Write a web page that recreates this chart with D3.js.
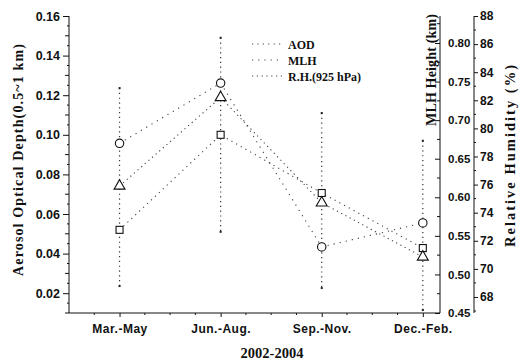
<!DOCTYPE html>
<html>
<head>
<meta charset="utf-8">
<script src="https://cdn.jsdelivr.net/npm/d3@7"></script>
<style>
  html, body { margin: 0; padding: 0; background: #fff; }
  svg { display: block; }
  .tick text { font-family: "Liberation Sans", Arial, sans-serif; font-weight: bold; fill: #111; }
  .domain, .tick line { stroke: #111; }
</style>
</head>
<body>
<svg id="chart" width="519" height="361"></svg>
<script>
// ---- data ----
const seasons = ["Mar.-May", "Jun.-Aug.", "Sep.-Nov.", "Dec.-Feb."];
const aod = [0.052, 0.100, 0.0706, 0.0428];          // left axis, squares
const mlh = [0.670, 0.748, 0.5356, 0.5667];          // MLH axis, circles
const rh  = [75.9, 82.2, 74.7, 70.85];               // RH axis, triangles
const errHigh = [0.1236, 0.149, 0.111, 0.097];       // vertical dotted ranges (AOD units)
const errLow  = [0.0236, 0.051, 0.0226, 0.0115];
const aodTicks = [0.02, 0.04, 0.06, 0.08, 0.10, 0.12, 0.14, 0.16];
const mlhTicks = [0.45, 0.50, 0.55, 0.60, 0.65, 0.70, 0.75, 0.80];
const rhTicks  = [68, 70, 72, 74, 76, 78, 80, 82, 84, 86, 88];
const legendLabels = ["AOD", "MLH", "R.H.(925 hPa)"];

// ---- layout ----
const L = 69, R = 440, T = 16, B = 313;
const svg = d3.select("#chart");

const x = d3.scaleLinear().domain([-0.5, 3.17]).range([L, R]);
const yA = d3.scaleLinear().domain([0.01, 0.16]).range([B, T]);
const yM = d3.scaleLinear().domain([0.45, 0.835]).range([B, T]);
const yR = d3.scaleLinear().domain([66.86, 88]).range([B, T]);

function minor(g, positions, x1, x2, horizontal) {
  g.selectAll(null).data(positions).enter().append("line")
    .attr("stroke", "#111").attr("stroke-width", 1)
    .attr("x1", d => horizontal ? d : x1).attr("x2", d => horizontal ? d : x2)
    .attr("y1", d => horizontal ? x1 : d).attr("y2", d => horizontal ? x2 : d);
}

// left axis
const gL = svg.append("g").attr("transform", `translate(${L},0)`)
  .call(d3.axisLeft(yA).tickValues(aodTicks).tickFormat(d3.format(".2f"))
    .tickSizeOuter(0).tickSize(6).tickPadding(3));
gL.select(".domain").attr("d", `M0,${T}V${B}`);
gL.selectAll(".tick text").attr("font-size", 12.5);
minor(svg.append("g"), d3.range(0.015, 0.16, 0.01).map(v => yA(v)), L - 2, L, false);
minor(svg.append("g"), d3.range(0.01, 0.161, 0.01).filter(v => Math.round(v*100) % 2 === 1).map(v => yA(v)), L - 4, L, false);

// bottom axis
const gB = svg.append("g").attr("transform", `translate(0,${B})`)
  .call(d3.axisBottom(x).tickValues([0, 1, 2, 3]).tickFormat(i => seasons[i])
    .tickSizeOuter(0).tickSize(4).tickPadding(7.5));
gB.select(".domain").attr("d", `M${L},0H${R}`);
gB.selectAll(".tick text").attr("font-size", 12).attr("letter-spacing", "0.5px");
minor(svg.append("g"), d3.range(-0.25, 3.17, 0.25).filter(v => Math.abs(v - Math.round(v)) > 0.01).map(v => x(v)), B, B + 2, true);

// MLH axis
const gM = svg.append("g").attr("transform", `translate(${R},0)`)
  .call(d3.axisRight(yM).tickValues(mlhTicks).tickFormat(d3.format(".2f"))
    .tickSizeOuter(0).tickSizeInner(-5).tickPadding(8));
gM.select(".domain").attr("d", `M0,${T}V${B}`);
gM.selectAll(".tick text").attr("font-size", 11.5);
minor(svg.append("g"), d3.range(0.475, 0.835, 0.05).map(v => yM(v)), R - 3, R, false);

// RH axis
const RX = 474;
const gR = svg.append("g").attr("transform", `translate(${RX},0)`)
  .call(d3.axisRight(yR).tickValues(rhTicks).tickFormat(d3.format("d"))
    .tickSizeOuter(0).tickSize(4).tickPadding(2));
gR.select(".domain").attr("d", `M0,${T}V${B}`);
gR.selectAll(".tick text").attr("font-size", 12);
minor(svg.append("g"), d3.range(67, 88, 2).map(v => yR(v)), RX, RX + 2, false);

// titles
const serif = '"Liberation Serif", "Times New Roman", serif';
svg.append("text").attr("transform", "translate(23,160) rotate(-90)")
  .attr("text-anchor", "middle").attr("font-family", serif).attr("font-weight", "bold")
  .attr("font-size", 14).attr("textLength", 232).attr("lengthAdjust", "spacing")
  .attr("fill", "#111").text("Aerosol Optical Depth(0.5~1 km)");
svg.append("text").attr("transform", "translate(436,70) rotate(-90)")
  .attr("text-anchor", "middle").attr("font-family", serif).attr("font-weight", "bold")
  .attr("font-size", 14).attr("textLength", 112).attr("lengthAdjust", "spacing")
  .attr("fill", "#111").text("MLH Height (km)");
svg.append("text").attr("transform", "translate(515,156) rotate(-90)")
  .attr("text-anchor", "middle").attr("font-family", serif).attr("font-weight", "bold")
  .attr("font-size", 14.5).attr("textLength", 182).attr("lengthAdjust", "spacing")
  .attr("fill", "#111").text("Relative Humidity (%)");
svg.append("text").attr("x", 272).attr("y", 358)
  .attr("text-anchor", "middle").attr("font-family", serif).attr("font-weight", "bold")
  .attr("font-size", 14.5).attr("fill", "#111").text("2002-2004");

// error ranges
const gE = svg.append("g");
seasons.forEach((s, i) => {
  gE.append("line").attr("x1", x(i)).attr("x2", x(i))
    .attr("y1", yA(errHigh[i])).attr("y2", yA(errLow[i]))
    .attr("stroke", "#333").attr("stroke-width", 1.2).attr("stroke-dasharray", "1.2,3.6");
  gE.append("rect").attr("x", x(i) - 1).attr("y", yA(errHigh[i]) - 1).attr("width", 2).attr("height", 2).attr("fill", "#222");
  gE.append("rect").attr("x", x(i) - 1).attr("y", yA(errLow[i]) - 1).attr("width", 2).attr("height", 2).attr("fill", "#222");
});

// series lines
const idx = d3.range(seasons.length);
const series = [
  { vals: aod, y: yA, dash: "1.2,4.2" },
  { vals: mlh, y: yM, dash: "1.2,5" },
  { vals: rh,  y: yR, dash: "1.2,3.6" }
];
series.forEach(s => {
  svg.append("path")
    .attr("d", d3.line().x(i => x(i)).y(i => s.y(s.vals[i]))(idx))
    .attr("fill", "none").attr("stroke", "#444").attr("stroke-width", 1.1)
    .attr("stroke-dasharray", s.dash);
});

// markers
svg.append("g").selectAll("rect").data(idx).enter().append("rect")
  .attr("x", i => x(i) - 3.5).attr("y", i => yA(aod[i]) - 3.5)
  .attr("width", 7).attr("height", 7)
  .attr("fill", "#fff").attr("stroke", "#111").attr("stroke-width", 1.1);
svg.append("g").selectAll("circle").data(idx).enter().append("circle")
  .attr("cx", i => x(i)).attr("cy", i => yM(mlh[i])).attr("r", 4.2)
  .attr("fill", "#fff").attr("stroke", "#111").attr("stroke-width", 1.1);
const tri = d3.symbol().type(d3.symbolTriangle).size(52);
svg.append("g").selectAll("path").data(idx).enter().append("path")
  .attr("d", tri).attr("transform", i => `translate(${x(i)},${yR(rh[i])})`)
  .attr("fill", "#fff").attr("stroke", "#111").attr("stroke-width", 1.1);

// legend
const legY = [44, 60, 76];
legendLabels.forEach((lab, k) => {
  svg.append("line").attr("x1", 252).attr("x2", 283).attr("y1", legY[k]).attr("y2", legY[k])
    .attr("stroke", "#444").attr("stroke-width", 1.1).attr("stroke-dasharray", series[k].dash);
  svg.append("text").attr("x", 288).attr("y", legY[k] + 4.5)
    .attr("font-family", serif).attr("font-weight", "bold").attr("font-size", 12)
    .attr("fill", "#111").text(lab);
});
</script>
</body>
</html>
